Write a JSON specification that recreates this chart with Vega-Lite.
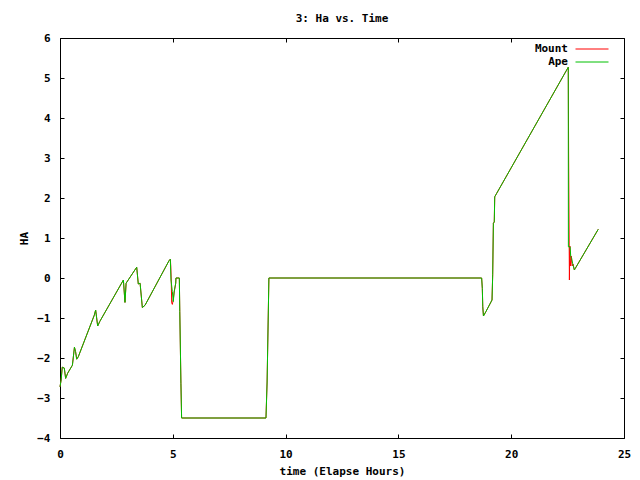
{
  "$schema": "https://vega.github.io/schema/vega-lite/v6.json",
  "autosize": "none",
  "width": 564,
  "height": 400,
  "padding": {"left": 60, "top": 38, "right": 16, "bottom": 42},
  "background": "white",
  "config": {
    "view": {"stroke": "black", "strokeWidth": 1},
    "font": "DejaVu Sans Mono",
    "axis": {"labelFont": "DejaVu Sans Mono", "labelFontWeight": "bold", "labelFontSize": 11, "labelColor": "black", "titleFont": "DejaVu Sans Mono", "titleFontWeight": "bold", "titleFontSize": 11, "titleColor": "black", "domain": false, "ticks": true, "tickColor": "#000000", "tickWidth": 1, "grid": false, "zindex": 1}
  },
  "title": {"text": "3: Ha vs. Time", "font": "DejaVu Sans Mono", "fontSize": 11, "fontWeight": "bold", "color": "black", "offset": 8, "anchor": "middle"},
  "data": {"values": [
    {"t": 0, "ha": -2.72, "s": "Mount"},
    {"t": 0.05, "ha": -2.55, "s": "Mount"},
    {"t": 0.1, "ha": -2.23, "s": "Mount"},
    {"t": 0.19, "ha": -2.25, "s": "Mount"},
    {"t": 0.25, "ha": -2.51, "s": "Mount"},
    {"t": 0.34, "ha": -2.38, "s": "Mount"},
    {"t": 0.55, "ha": -2.18, "s": "Mount"},
    {"t": 0.64, "ha": -1.73, "s": "Mount"},
    {"t": 0.69, "ha": -1.84, "s": "Mount"},
    {"t": 0.74, "ha": -2.03, "s": "Mount"},
    {"t": 0.81, "ha": -1.97, "s": "Mount"},
    {"t": 1.52, "ha": -0.93, "s": "Mount"},
    {"t": 1.58, "ha": -0.8, "s": "Mount"},
    {"t": 1.67, "ha": -1.2, "s": "Mount"},
    {"t": 1.76, "ha": -1.09, "s": "Mount"},
    {"t": 2.81, "ha": -0.05, "s": "Mount"},
    {"t": 2.88, "ha": -0.61, "s": "Mount"},
    {"t": 2.93, "ha": -0.13, "s": "Mount"},
    {"t": 3.4, "ha": 0.27, "s": "Mount"},
    {"t": 3.47, "ha": -0.15, "s": "Mount"},
    {"t": 3.55, "ha": -0.13, "s": "Mount"},
    {"t": 3.65, "ha": -0.74, "s": "Mount"},
    {"t": 3.77, "ha": -0.68, "s": "Mount"},
    {"t": 4.83, "ha": 0.43, "s": "Mount"},
    {"t": 4.89, "ha": 0.47, "s": "Mount"},
    {"t": 4.91, "ha": 0.3, "s": "Mount"},
    {"t": 4.93, "ha": -0.05, "s": "Mount"},
    {"t": 4.95, "ha": -0.62, "s": "Mount"},
    {"t": 4.98, "ha": -0.66, "s": "Mount"},
    {"t": 5.02, "ha": -0.55, "s": "Mount"},
    {"t": 5.06, "ha": -0.35, "s": "Mount"},
    {"t": 5.13, "ha": -0.13, "s": "Mount"},
    {"t": 5.14, "ha": 0.0, "s": "Mount"},
    {"t": 5.29, "ha": 0.0, "s": "Mount"},
    {"t": 5.31, "ha": -0.84, "s": "Mount"},
    {"t": 5.36, "ha": -2.63, "s": "Mount"},
    {"t": 5.39, "ha": -3.5, "s": "Mount"},
    {"t": 9.13, "ha": -3.5, "s": "Mount"},
    {"t": 9.18, "ha": -2.6, "s": "Mount"},
    {"t": 9.26, "ha": 0.0, "s": "Mount"},
    {"t": 18.69, "ha": 0.0, "s": "Mount"},
    {"t": 18.72, "ha": -0.26, "s": "Mount"},
    {"t": 18.74, "ha": -0.72, "s": "Mount"},
    {"t": 18.77, "ha": -0.95, "s": "Mount"},
    {"t": 18.88, "ha": -0.84, "s": "Mount"},
    {"t": 19.15, "ha": -0.55, "s": "Mount"},
    {"t": 19.18, "ha": 0.08, "s": "Mount"},
    {"t": 19.21, "ha": 1.37, "s": "Mount"},
    {"t": 19.25, "ha": 1.4, "s": "Mount"},
    {"t": 19.27, "ha": 2.03, "s": "Mount"},
    {"t": 19.36, "ha": 2.12, "s": "Mount"},
    {"t": 22.53, "ha": 5.27, "s": "Mount"},
    {"t": 22.545, "ha": 3.1, "s": "Mount"},
    {"t": 22.55, "ha": 2.65, "s": "Mount"},
    {"t": 22.58, "ha": -0.05, "s": "Mount"},
    {"t": 22.6, "ha": 0.8, "s": "Mount"},
    {"t": 22.62, "ha": 0.3, "s": "Mount"},
    {"t": 22.66, "ha": 0.55, "s": "Mount"},
    {"t": 22.7, "ha": 0.3, "s": "Mount"},
    {"t": 22.74, "ha": 0.35, "s": "Mount"},
    {"t": 22.8, "ha": 0.2, "s": "Mount"},
    {"t": 22.84, "ha": 0.24, "s": "Mount"},
    {"t": 23.86, "ha": 1.22, "s": "Mount"},
    {"t": 0, "ha": -2.72, "s": "Ape"},
    {"t": 0.05, "ha": -2.55, "s": "Ape"},
    {"t": 0.1, "ha": -2.23, "s": "Ape"},
    {"t": 0.19, "ha": -2.25, "s": "Ape"},
    {"t": 0.25, "ha": -2.51, "s": "Ape"},
    {"t": 0.34, "ha": -2.38, "s": "Ape"},
    {"t": 0.55, "ha": -2.18, "s": "Ape"},
    {"t": 0.64, "ha": -1.73, "s": "Ape"},
    {"t": 0.69, "ha": -1.84, "s": "Ape"},
    {"t": 0.74, "ha": -2.03, "s": "Ape"},
    {"t": 0.81, "ha": -1.97, "s": "Ape"},
    {"t": 1.52, "ha": -0.93, "s": "Ape"},
    {"t": 1.58, "ha": -0.8, "s": "Ape"},
    {"t": 1.67, "ha": -1.2, "s": "Ape"},
    {"t": 1.76, "ha": -1.09, "s": "Ape"},
    {"t": 2.81, "ha": -0.05, "s": "Ape"},
    {"t": 2.88, "ha": -0.61, "s": "Ape"},
    {"t": 2.93, "ha": -0.13, "s": "Ape"},
    {"t": 3.4, "ha": 0.27, "s": "Ape"},
    {"t": 3.47, "ha": -0.15, "s": "Ape"},
    {"t": 3.55, "ha": -0.13, "s": "Ape"},
    {"t": 3.65, "ha": -0.74, "s": "Ape"},
    {"t": 3.77, "ha": -0.68, "s": "Ape"},
    {"t": 4.83, "ha": 0.43, "s": "Ape"},
    {"t": 4.89, "ha": 0.47, "s": "Ape"},
    {"t": 4.92, "ha": -0.05, "s": "Ape"},
    {"t": 4.98, "ha": -0.34, "s": "Ape"},
    {"t": 5.02, "ha": -0.59, "s": "Ape"},
    {"t": 5.06, "ha": -0.35, "s": "Ape"},
    {"t": 5.13, "ha": -0.13, "s": "Ape"},
    {"t": 5.14, "ha": 0.0, "s": "Ape"},
    {"t": 5.29, "ha": 0.0, "s": "Ape"},
    {"t": 5.31, "ha": -0.84, "s": "Ape"},
    {"t": 5.36, "ha": -2.63, "s": "Ape"},
    {"t": 5.39, "ha": -3.5, "s": "Ape"},
    {"t": 9.13, "ha": -3.5, "s": "Ape"},
    {"t": 9.18, "ha": -2.6, "s": "Ape"},
    {"t": 9.26, "ha": 0.0, "s": "Ape"},
    {"t": 18.69, "ha": 0.0, "s": "Ape"},
    {"t": 18.72, "ha": -0.26, "s": "Ape"},
    {"t": 18.74, "ha": -0.72, "s": "Ape"},
    {"t": 18.77, "ha": -0.95, "s": "Ape"},
    {"t": 18.88, "ha": -0.84, "s": "Ape"},
    {"t": 19.15, "ha": -0.55, "s": "Ape"},
    {"t": 19.18, "ha": 0.08, "s": "Ape"},
    {"t": 19.21, "ha": 1.37, "s": "Ape"},
    {"t": 19.25, "ha": 1.4, "s": "Ape"},
    {"t": 19.27, "ha": 2.03, "s": "Ape"},
    {"t": 19.36, "ha": 2.12, "s": "Ape"},
    {"t": 22.53, "ha": 5.27, "s": "Ape"},
    {"t": 22.535, "ha": 0.78, "s": "Ape"},
    {"t": 22.61, "ha": 0.78, "s": "Ape"},
    {"t": 22.64, "ha": 0.53, "s": "Ape"},
    {"t": 22.68, "ha": 0.49, "s": "Ape"},
    {"t": 22.72, "ha": 0.37, "s": "Ape"},
    {"t": 22.8, "ha": 0.2, "s": "Ape"},
    {"t": 22.84, "ha": 0.24, "s": "Ape"},
    {"t": 23.86, "ha": 1.22, "s": "Ape"}
  ]},
  "layer": [
    {
      "mark": {"type": "line", "strokeWidth": 1, "interpolate": "linear"},
      "encoding": {
        "x": {"field": "t", "type": "quantitative", "scale": {"domain": [0, 25], "nice": false, "zero": false},
              "axis": {"orient": "bottom", "title": "time (Elapse Hours)", "values": [0, 5, 10, 15, 20, 25], "offset": -4, "tickSize": 4, "labelPadding": 10, "titlePadding": 6, "labelFlush": false}},
        "y": {"field": "ha", "type": "quantitative", "scale": {"domain": [-4, 6], "nice": false, "zero": false},
              "axis": {"orient": "left", "title": "HA", "titlePadding": 7, "values": [-4, -3, -2, -1, 0, 1, 2, 3, 4, 5, 6], "offset": -4, "tickSize": 4, "labelPadding": 10}},
        "color": {"field": "s", "type": "nominal", "sort": ["Mount", "Ape"],
                  "scale": {"domain": ["Mount", "Ape"], "range": ["#ff0000", "#00c000"]},
                  "legend": {"title": null, "orient": "none", "legendX": 526, "legendY": 5, "symbolType": "M-3,0H3", "symbolSize": 121, "symbolStrokeWidth": 1, "labelAlign": "right", "labelOffset": -30, "labelFont": "DejaVu Sans Mono", "labelFontWeight": "bold", "labelFontSize": 11, "labelColor": "black", "rowPadding": 2}}
      }
    },
    {
      "mark": {"type": "line", "opacity": 0},
      "encoding": {
        "x": {"field": "t", "type": "quantitative", "axis": {"orient": "top", "title": null, "labels": false, "values": [0, 5, 10, 15, 20, 25], "offset": -4, "tickSize": 4}},
        "y": {"field": "ha", "type": "quantitative", "axis": {"orient": "right", "title": null, "labels": false, "values": [-4, -3, -2, -1, 0, 1, 2, 3, 4, 5, 6], "offset": -4, "tickSize": 4}}
      }
    }
  ],
  "resolve": {"axis": {"x": "independent", "y": "independent"}}
}
